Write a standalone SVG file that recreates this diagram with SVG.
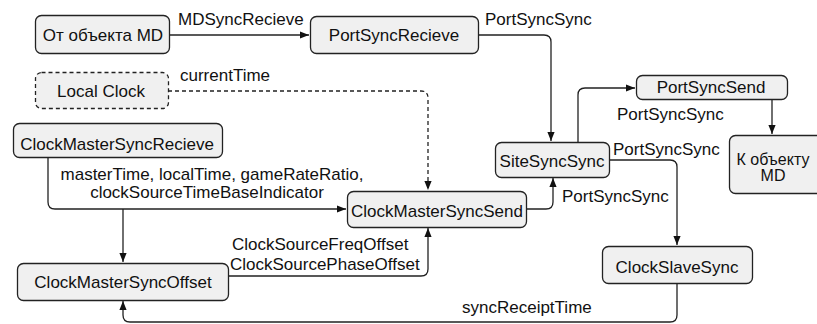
<svg xmlns="http://www.w3.org/2000/svg" width="817" height="324" viewBox="0 0 817 324">
  <style>
    .box { fill: #f0f0f0; stroke: #222; stroke-width: 1.3; }
    .dash { stroke-dasharray: 4 3; }
    .t { font-family: "Liberation Sans", Arial, sans-serif; font-size: 17px; fill: #111; }
    .c { text-anchor: middle; }
    .ln { fill: none; stroke: #222; stroke-width: 1.3; }
  </style>
  <defs>
    <marker id="arr" viewBox="0 0 10 10" refX="10" refY="5" markerWidth="9" markerHeight="9" markerUnits="userSpaceOnUse" orient="auto">
      <path d="M0,1 L10,5 L0,9 Z" fill="#111"/>
    </marker>
  </defs>

  <!-- connectors -->
  <g id="connectors">
    <path class="ln" d="M170,35 H309" marker-end="url(#arr)"/>
    <text class="t" x="178" y="25">MDSyncRecieve</text>

    <path class="ln" d="M478,35 H544 Q551,35 551,42 V141" marker-end="url(#arr)"/>
    <text class="t" x="485" y="25">PortSyncSync</text>

    <path class="ln dash" d="M168,91 H421 Q428,91 428,98 V190" marker-end="url(#arr)"/>
    <text class="t" x="180" y="81">currentTime</text>

    <path class="ln" d="M578,142 V95 Q578,88 585,88 H635" marker-end="url(#arr)"/>
    <text class="t" x="617" y="120">PortSyncSync</text>

    <path class="ln" d="M772,99 V134" marker-end="url(#arr)"/>

    <path class="ln" d="M609,160 H670 Q677,160 677,167 V245" marker-end="url(#arr)"/>
    <text class="t" x="613" y="155">PortSyncSync</text>

    <path class="ln" d="M526,209 H546 Q553,209 553,202 V178" marker-end="url(#arr)"/>
    <text class="t" x="562" y="202">PortSyncSync</text>

    <path class="ln" d="M48,157 V202 Q48,209 55,209 H346" marker-end="url(#arr)"/>
    <path class="ln" d="M123,209 V262" marker-end="url(#arr)"/>
    <text class="t c" x="212" y="180">masterTime, localTime, gameRateRatio,</text>
    <text class="t c" x="207" y="198">clockSourceTimeBaseIndicator</text>

    <path class="ln" d="M228,276 H421 Q428,276 428,269 V228" marker-end="url(#arr)"/>
    <text class="t" x="232" y="250">ClockSourceFreqOffset</text>
    <text class="t" x="230" y="270">ClockSourcePhaseOffset</text>

    <path class="ln" d="M677,283 V315 Q677,322 670,322 H130 Q123,322 123,315 V301" marker-end="url(#arr)"/>
    <text class="t" x="462" y="313">syncReceiptTime</text>
  </g>

  <!-- nodes -->
  <g id="from-md">
    <rect class="box" x="35.5" y="15.5" width="134" height="38" rx="6"/>
    <text class="t c" x="103" y="41">От объекта MD</text>
  </g>
  <g id="port-sync-recieve">
    <rect class="box" x="310.5" y="16.5" width="168" height="37" rx="6"/>
    <text class="t c" x="394" y="41">PortSyncRecieve</text>
  </g>
  <g id="local-clock">
    <rect class="box dash" x="35.5" y="72.5" width="133" height="36" rx="6"/>
    <text class="t c" x="101" y="97">Local Clock</text>
  </g>
  <g id="clock-master-sync-recieve">
    <rect class="box" x="13.5" y="123.5" width="209" height="34" rx="6"/>
    <text class="t c" x="117" y="150">ClockMasterSyncRecieve</text>
  </g>
  <g id="site-sync-sync">
    <rect class="box" x="495.5" y="142.5" width="114" height="35" rx="6"/>
    <text class="t c" x="552" y="167">SiteSyncSync</text>
  </g>
  <g id="port-sync-send">
    <rect class="box" x="636.5" y="75.5" width="151" height="24" rx="6"/>
    <text class="t c" x="711" y="93">PortSyncSend</text>
  </g>
  <g id="to-md">
    <rect class="box" x="729.5" y="135.5" width="100" height="58" rx="6"/>
    <text class="t c" x="773" y="165" style="font-size:16px">К объекту</text>
    <text class="t c" x="773" y="181" style="font-size:16px">MD</text>
  </g>
  <g id="clock-master-sync-send">
    <rect class="box" x="347.5" y="191.5" width="179" height="36" rx="6"/>
    <text class="t c" x="437" y="217">ClockMasterSyncSend</text>
  </g>
  <g id="clock-master-sync-offset">
    <rect class="box" x="17.5" y="263.5" width="211" height="37" rx="6"/>
    <text class="t c" x="123" y="288">ClockMasterSyncOffset</text>
  </g>
  <g id="clock-slave-sync">
    <rect class="box" x="602.5" y="246.5" width="150" height="37" rx="6"/>
    <text class="t c" x="677" y="273">ClockSlaveSync</text>
  </g>
</svg>
